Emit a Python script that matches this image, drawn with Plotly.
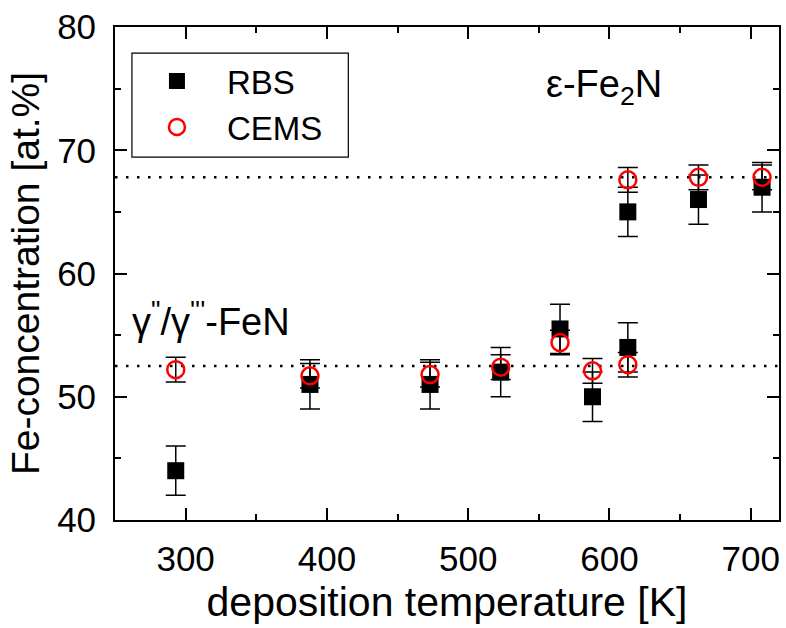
import plotly.graph_objects as go

# ---- data ----
temp_rbs = [293, 388, 473, 523, 565, 588, 613, 613, 663, 708]
conc_rbs = [44.0, 51.0, 51.0, 52.0, 55.5, 50.0, 54.0, 65.0, 66.0, 67.0]
err_rbs = [2, 2, 2, 2, 2, 2, 2, 2, 2, 2]

temp_cems = [293, 388, 473, 523, 565, 588, 613, 613, 663, 708]
conc_cems = [52.2, 51.7, 51.8, 52.4, 54.4, 52.1, 52.6, 67.6, 67.8, 67.8]
err_cems = [1, 1, 1, 1, 1, 1, 1, 1, 1, 1]

ref_levels = [52.5, 67.8]

x_ticks = [300, 400, 500, 600, 700]
y_ticks = [40, 50, 60, 70, 80]

FONT = "Liberation Sans, Arial, sans-serif"

fig = go.Figure()

fig.add_trace(go.Scatter(
    x=temp_rbs, y=conc_rbs, mode="markers", name="RBS",
    marker=dict(symbol="square", size=17, color="black"),
    error_y=dict(type="data", array=err_rbs, color="black", thickness=1.5, width=10),
))
fig.add_trace(go.Scatter(
    x=temp_cems, y=conc_cems, mode="markers", name="CEMS",
    marker=dict(symbol="circle-open", size=17, color="#ff0000", line=dict(width=2.5, color="#ff0000")),
    error_y=dict(type="data", array=err_cems, color="black", thickness=1.5, width=10),
))

for lvl in ref_levels:
    fig.add_shape(type="line", xref="paper", x0=0, x1=1, yref="y", y0=lvl, y1=lvl,
                  line=dict(color="black", width=2.5, dash="2.5px,8.5px"), layer="below")

# legend frame
fig.add_shape(type="rect", xref="paper", yref="paper", x0=0.0255, x1=0.3514, y0=0.736, y1=0.947,
              line=dict(color="black", width=1.2), fillcolor="rgba(0,0,0,0)", layer="above")

fig.add_annotation(x=554, y=75.1, xref="x", yref="y", xanchor="left", yanchor="middle",
                   text="ε-Fe<sub>2</sub>N", showarrow=False,
                   font=dict(family=FONT, size=38, color="black"))
fig.add_annotation(x=260.5, y=56.3, xref="x", yref="y", xanchor="left", yanchor="middle",
                   text="γ<sup>\"</sup>/γ<sup>'''</sup>-FeN", showarrow=False,
                   font=dict(family=FONT, size=38, color="black"))

axis_common = dict(
    showline=True, linecolor="black", linewidth=1.8, mirror="allticks",
    ticks="inside", ticklen=12, tickwidth=1.5, tickcolor="black",
    showgrid=False, zeroline=False,
    tickfont=dict(family=FONT, size=35, color="black"),
)

fig.update_xaxes(
    range=[250, 720], tickvals=x_ticks,
    minor=dict(ticks="inside", ticklen=6, tickwidth=1.5, tickcolor="black", dtick=50),
    title=dict(text="deposition temperature [K]", font=dict(family=FONT, size=41, color="black"), standoff=10),
    ticklabelstandoff=7,
    **axis_common,
)
fig.update_yaxes(
    range=[40, 80], tickvals=y_ticks,
    minor=dict(ticks="inside", ticklen=6, tickwidth=1.5, tickcolor="black", dtick=5),
    title=dict(text="Fe-concentration [at.%]", font=dict(family=FONT, size=39, color="black"), standoff=6),
    ticklabelstandoff=10,
    **axis_common,
)

fig.update_layout(
    width=786, height=628,
    margin=dict(l=115, r=5, t=27, b=108),
    paper_bgcolor="white", plot_bgcolor="white",
    showlegend=True,
    legend=dict(x=0.018, y=0.947, xanchor="left", yanchor="top",
                borderwidth=0, bgcolor="rgba(0,0,0,0)",
                font=dict(family=FONT, size=33, color="black"),
                itemwidth=90),
)

fig.write_html("out.html")
